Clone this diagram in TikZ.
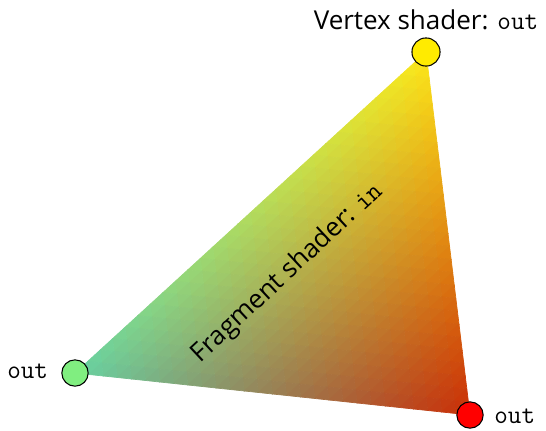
\documentclass[tikz,border=0pt]{standalone}
\usepackage{fontspec}
\setmainfont{Open Sans}
\begin{document}
\begin{tikzpicture}[x=0.02cm,y=-0.02cm,
  vtx/.style={circle,draw=black,line width=0.6pt,minimum size=15pt,inner sep=0pt},
  lbl/.style={inner sep=0pt,font=\fontsize{14.8}{17}\selectfont},
  mono/.style={inner sep=0pt,font=\fontsize{15}{17}\selectfont\ttfamily}]
\useasboundingbox (0,0) rectangle (546,430);
% vertices
\def\Ax{426}\def\Ay{52}
\def\Bx{75}\def\By{373}
\def\Cx{470}\def\Cy{415}
% colours at vertices
\def\Ar{0.99}\def\Ag{0.91}\def\Ab{0.10}
\def\Br{0.40}\def\Bg{0.82}\def\Bb{0.64}
\def\Cr{0.79}\def\Cg{0.18}\def\Cb{0.03}
\def\N{28}
\pgfmathtruncatemacro\Nm{\N-1}
\foreach \i in {0,...,\Nm}{
  \pgfmathtruncatemacro\jmax{\N-1-\i}
  \foreach \j in {0,...,\jmax}{
    % up triangle
    \pgfmathsetmacro\wb{(\i+1/3)/\N}
    \pgfmathsetmacro\wc{(\j+1/3)/\N}
    \pgfmathsetmacro\wa{1-\wb-\wc}
    \pgfmathsetmacro\cr{max(0,min(1,\wa*\Ar+\wb*\Br+\wc*\Cr))}
    \pgfmathsetmacro\cg{max(0,min(1,\wa*\Ag+\wb*\Bg+\wc*\Cg))}
    \pgfmathsetmacro\cb{max(0,min(1,\wa*\Ab+\wb*\Bb+\wc*\Cb))}
    \definecolor{tc}{rgb}{\cr,\cg,\cb}
    \pgfmathsetmacro\pxa{\Ax+\i/\N*(\Bx-\Ax)+\j/\N*(\Cx-\Ax)}
    \pgfmathsetmacro\pya{\Ay+\i/\N*(\By-\Ay)+\j/\N*(\Cy-\Ay)}
    \pgfmathsetmacro\pxb{\Ax+(\i+1)/\N*(\Bx-\Ax)+\j/\N*(\Cx-\Ax)}
    \pgfmathsetmacro\pyb{\Ay+(\i+1)/\N*(\By-\Ay)+\j/\N*(\Cy-\Ay)}
    \pgfmathsetmacro\pxc{\Ax+\i/\N*(\Bx-\Ax)+(\j+1)/\N*(\Cx-\Ax)}
    \pgfmathsetmacro\pyc{\Ay+\i/\N*(\By-\Ay)+(\j+1)/\N*(\Cy-\Ay)}
    \filldraw[fill=tc,draw=tc,line width=0.4pt,line join=round] (\pxa,\pya) -- (\pxb,\pyb) -- (\pxc,\pyc) -- cycle;
    \ifnum\j<\jmax
      \pgfmathsetmacro\wb{(\i+2/3)/\N}
      \pgfmathsetmacro\wc{(\j+2/3)/\N}
      \pgfmathsetmacro\wa{1-\wb-\wc}
      \pgfmathsetmacro\cr{max(0,min(1,\wa*\Ar+\wb*\Br+\wc*\Cr))}
      \pgfmathsetmacro\cg{max(0,min(1,\wa*\Ag+\wb*\Bg+\wc*\Cg))}
      \pgfmathsetmacro\cb{max(0,min(1,\wa*\Ab+\wb*\Bb+\wc*\Cb))}
      \definecolor{tc}{rgb}{\cr,\cg,\cb}
      \pgfmathsetmacro\pxd{\Ax+(\i+1)/\N*(\Bx-\Ax)+(\j+1)/\N*(\Cx-\Ax)}
      \pgfmathsetmacro\pyd{\Ay+(\i+1)/\N*(\By-\Ay)+(\j+1)/\N*(\Cy-\Ay)}
      \filldraw[fill=tc,draw=tc,line width=0.4pt,line join=round] (\pxb,\pyb) -- (\pxd,\pyd) -- (\pxc,\pyc) -- cycle;
    \fi
  }
}
% vertex circles
\node[vtx,fill={rgb,255:red,255;green,235;blue,0},minimum size=16pt] (va) at (\Ax,\Ay) {};
\node[vtx,fill={rgb,255:red,128;green,238;blue,128}] (vb) at (\Bx,\By) {};
\node[vtx,fill={rgb,255:red,255;green,0;blue,0}] (vc) at (\Cx,\Cy) {};
% labels
\node[lbl,anchor=base] (la) at (426,29) {Vertex shader: {\fontsize{15}{17}\selectfont\ttfamily out}};
\node[mono,anchor=base west] (lb) at (7,378) {out};
\node[mono,anchor=base west] (lc) at (494,423) {out};
\node[lbl,anchor=base,rotate=43] (lf) at (292,278) {Fragment shader: {\fontsize{15}{17}\selectfont\ttfamily in}};
\end{tikzpicture}
\end{document}
